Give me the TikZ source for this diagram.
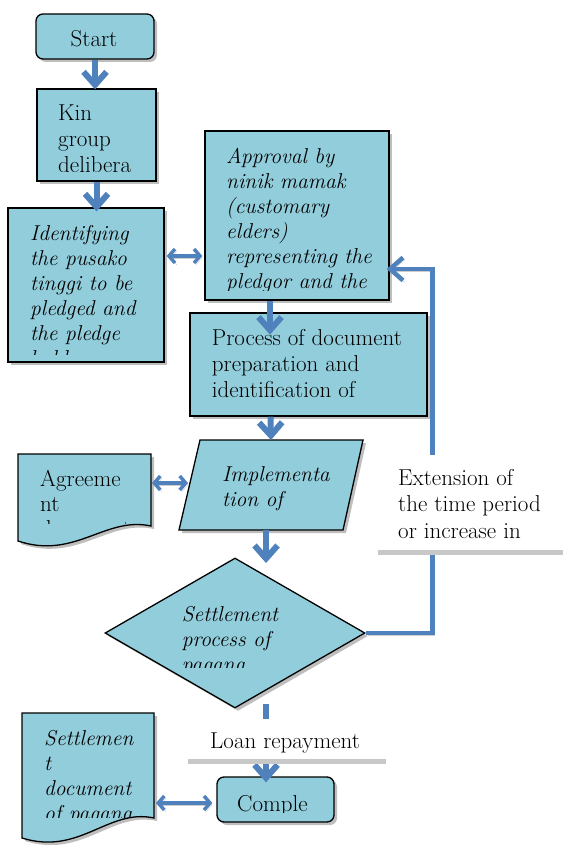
\documentclass[tikz,border=0pt]{standalone}
\usepackage{fontspec}
\usetikzlibrary{arrows.meta,shapes.geometric,shadows,calc}
\definecolor{boxfill}{RGB}{146,205,220}
\definecolor{flow}{RGB}{79,129,189}
\definecolor{shade}{RGB}{190,190,190}
\definecolor{ashade}{RGB}{205,205,205}
\definecolor{rulegray}{RGB}{200,200,200}
\tikzset{
  boxshadow/.style={drop shadow={shadow xshift=3pt, shadow yshift=-3pt, fill=shade, opacity=1}},
  procbox/.style={draw=black, line width=1.3pt, fill=boxfill, boxshadow, inner sep=0pt},
  termbox/.style={procbox, rounded corners=7pt},
  arrowshadow/.style={preaction={draw=ashade, transform canvas={shift={(2pt,-2pt)}}}},
  flowarrow/.style={draw=flow, line width=6pt, arrowshadow, -{Straight Barb[length=13pt,width=23pt]}},
  looparrow/.style={draw=flow, line width=4.5pt, arrowshadow, -{Straight Barb[length=13pt,width=23pt]}},
  dblarrow/.style={draw=flow, line width=3.5pt, arrowshadow, {Straight Barb[length=6pt,width=14pt]}-{Straight Barb[length=6pt,width=14pt]}},
  whitelabel/.style={fill=white, inner sep=0pt, anchor=north west},
  rulestyle/.style={draw=rulegray, line width=4.5pt},
  utxt/.style={anchor=base west, inner sep=0pt, align=left, font=\fontsize{23}{26}\selectfont},
  itxt/.style={anchor=base west, inner sep=0pt, align=left, font=\fontsize{21.5}{25}\selectfont\itshape}
}
\begin{document}
\begin{tikzpicture}[x=1pt,y=-1pt]
\useasboundingbox (0,0) rectangle (563,845);

% ---- shapes ----
\node[termbox, minimum width=118pt, minimum height=45pt] (start) at (95,36.5) {};
\node[procbox, minimum width=119pt, minimum height=92pt] (kin) at (96.5,135) {};
\node[procbox, minimum width=156pt, minimum height=154pt] (ident) at (86,285) {};
\node[procbox, minimum width=184pt, minimum height=169pt] (appr) at (297,215.5) {};
\node[procbox, minimum width=237pt, minimum height=103pt] (proc) at (308.5,364.5) {};
\path[procbox] (200,440) -- (363,440) -- (343,530) -- (179,530) -- cycle;
\coordinate (impltop) at (271,440);
\coordinate (implbot) at (266,530);
\coordinate (impleft) at (188,483);
\node[procbox, diamond, minimum width=260pt, minimum height=150pt] (dec) at (235,633) {};
\node[termbox, minimum width=117pt, minimum height=45pt] (comp) at (275.5,799.5) {};
\path[procbox] (18,454) -- (151,454) -- (151,526) .. controls (105,516) and (75,560) .. (18,541) -- cycle;
\coordinate (agree) at (152,483);
\path[procbox] (22,713) -- (154,713) -- (154,818) .. controls (108,808) and (80,856) .. (22,838) -- cycle;
\coordinate (settle) at (156,803);

% ---- connectors ----
\draw[flowarrow] (start.south) -- ($(start.south |- kin.north)+(0,1)$);
\draw[flowarrow] (kin.south) -- ($(kin.south |- ident.north)+(0,4)$);
\draw[flowarrow] ($(appr.south)+(-27,0)$) -- ($(appr.south)+(-27,34)$);
\draw[flowarrow] ($(proc.south)+(-38,0)$) -- (impltop);
\draw[flowarrow] (implbot) -- ($(implbot)+(0,33)$);
\draw[looparrow] (dec.east) -- ++(67,0) |- ($(appr.east)+(-3,53.5)$);
\draw[flowarrow] ($(dec.south)+(31,-5)$) -- ($(comp.north)+(-9.5,6)$);
\draw[dblarrow] ($(ident.east)+(2,-29)$) -- ($(appr.west)+(-2,40.5)$);
\draw[dblarrow] (agree) -- (impleft);
\draw[dblarrow] (settle) -- ($(comp.west)+(-4,3.5)$);

% ---- labels on connectors ----
\node[whitelabel, minimum width=185pt, minimum height=97pt] (extbox) at (378,455) {};
\draw[rulestyle] (extbox.south west) -- (extbox.south east);
\node[utxt, font=\fontsize{23}{26.6}\selectfont] (exttext) at (398,538.2) {Extension of\\the time period\\or increase in};
\node[whitelabel, minimum width=198pt, minimum height=42pt] (loanbox) at (188,719) {};
\draw[rulestyle] (loanbox.south west) -- (loanbox.south east);
\node[utxt] (loantext) at (210,748.3) {Loan repayment};

% ---- texts (clipped to text frames; anchored at last baseline) ----
\node[utxt, anchor=base] (tstart) at (94,46.7) {Start};
\begin{scope}
  \clip (37,89) rectangle (156,171.5);
  \node[utxt] (tkin) at (58,172.7) {Kin\\group\\delibera};
\end{scope}
\begin{scope}
  \clip (8,208) rectangle (164,354);
  \node[itxt] (tident) at (30,365.7) {Identifying\\the pusako\\tinggi to be\\pledged and\\the pledge\\holder};
\end{scope}
\begin{scope}
  \clip (205,131) rectangle (389,290.5);
  \node[itxt] (tappr) at (226,288.3) {Approval by\\ninik mamak\\(customary\\elders)\\representing the\\pledgor and the};
\end{scope}
\begin{scope}
  \clip (190,313) rectangle (427,405);
  \node[utxt] (tproc) at (211.7,397) {Process of document\\preparation and\\identification of};
\end{scope}
\begin{scope}
  \clip (179,440) rectangle (363,517);
  \node[itxt] (timpl) at (222,506.7) {Implementa\\tion of};
\end{scope}
\begin{scope}
  \clip (18,454) rectangle (151,523);
  \node[utxt, font=\fontsize{23}{25}\selectfont] (tagree) at (40,536.7) {Agreeme\\nt\\document};
\end{scope}
\begin{scope}
  \clip (105,558) rectangle (365,667.5);
  \node[itxt] (tdec) at (181.7,671.7) {Settlement\\process of\\pagang};
\end{scope}
\begin{scope}
  \clip (22,713) rectangle (154,817);
  \node[itxt] (tsettle) at (44,820) {Settlemen\\t\\document\\of pagang};
\end{scope}
\begin{scope}
  \clip (217,777) rectangle (334,812.5);
  \node[utxt] (tcomp) at (237,811) {Comple};
\end{scope}
\end{tikzpicture}
\end{document}
